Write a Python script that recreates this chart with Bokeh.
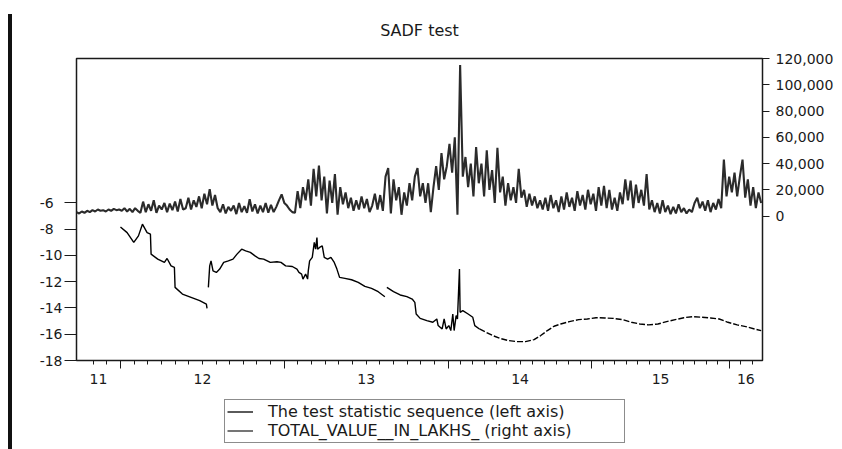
import numpy as np
from bokeh.plotting import figure
from bokeh.models import (Range1d, LinearAxis, FixedTicker, NumeralTickFormatter,
                          Legend, LegendItem, ColumnDataSource, Div)
from bokeh.layouts import row, column
from bokeh.embed import file_html
from bokeh.resources import INLINE

nan = np.nan

# ---------------- data ----------------
title_text = "SADF test"
years = ["11", "12", "13", "14", "15", "16"]
year_obs = [66, 246, 246, 216, 206, 50]          # observations (trading days) per year shown

left_ticks = [-18, -16, -14, -12, -10, -8, -6]
left_labels = ["-18", "-16", "-14", "-12", "-10", "-8\u2007", "-6\u2007"]
right_ticks = [0, 20000, 40000, 60000, 80000, 100000, 120000]

series_names = ["The test statistic sequence (left axis)",
                "TOTAL_VALUE__IN_LAKHS_ (right axis)"]

# SADF test statistic sequence: observation index / value
sadf_obs = [66, 76, 86, 93, 99, 106, 111, 112, 122, 132, 136, 142, 147, 148, 159, 172, 185, 195, 196, 197,
            198, 200, 202, 205, 210, 215, 221, 228, 235, 241, 248, 254, 261, 268, 274, 281, 291, 301, 307, 314,
            324, 331, 334, 338, 340, 344, 347, 348, 350, 354, 357, 359, 361, 362, 365, 369, 372, 377, 382, 387,
            391, 395, 403, 413, 423, 433, 443, 453, 463, 464,
            466, 476, 486, 496, 504, 508, 510, 516, 526, 535, 541, 543, 549, 552, 555, 559, 562, 565, 567, 570,
            572, 575, 576, 580, 588, 595, 598, 605, 615, 625, 635, 648, 661, 674, 687, 697, 707, 717, 727, 740,
            754, 767, 780, 793, 806, 820, 833, 846, 859, 873, 886, 899, 912, 925, 939, 952, 965, 978, 992, 1005,
            1018, 1028]
sadf_val = [-7.83, -8.26, -9.01, -8.51, -7.62, -8.26, -8.38, -9.90, -10.28, -10.53, -10.23, -10.79, -10.91,
            -12.43, -12.94, -13.19, -13.44, -13.70, -14.03, nan,
            -12.43, -10.79, -10.41, -11.17, -11.29, -11.04, -10.53, -10.41, -10.28, -9.90, -9.52, -9.65, -9.77,
            -10.03, -10.23, -10.28, -10.53, -10.48, -10.53, -10.79, -10.84, -11.04, -11.29, -11.42, -11.80,
            -11.42, -11.80, -11.17, -10.41, -10.15, -9.01, -9.52, -8.64, -9.52, -9.39, -9.27, -10.15, -10.28,
            -10.15, -10.53, -11.04, -11.67, -11.75, -11.85, -12.05, -12.36, -12.51, -12.76, -13.14, nan,
            -12.43, -12.76, -13.01, -13.14, -13.32, -13.57, -14.46, -14.79, -14.96, -15.09, -14.84, -15.34,
            -15.60, -14.84, -15.60, -15.34, -15.72, -14.46, -15.72, -14.58, -14.84, -11.04, -14.33, -14.20,
            -14.46, -14.71, -15.34, -15.60, -15.85, -16.10, -16.30, -16.48, -16.56, -16.56, -16.41, -16.10,
            -15.72, -15.39, -15.22, -15.04, -14.89, -14.84, -14.74, -14.76, -14.79, -14.89, -15.09, -15.22,
            -15.29, -15.22, -15.04, -14.89, -14.74, -14.66, -14.71, -14.76, -14.84, -15.09, -15.29, -15.42,
            -15.60, -15.72]

# TOTAL_VALUE (in lakhs), one reading every vol_step observations
vol_step = 4
volume = [3000, 2000, 3500, 2500, 4000, 3000, 4500, 3500, 5000, 4000, 4500, 3500, 5000, 4000, 5500, 4500, 5000,
          4000, 6000, 3500, 5500, 3000, 6000, 4000, 2500,
          11000, 3000, 9000, 4000, 12000, 2500, 8000, 5000, 10000, 3000, 9500, 4500, 11000, 3500, 13000, 5000,
          6000, 14000, 5000, 12000, 7000, 15000, 6000, 17000, 9000, 20500, 8000, 16000, 6000,
          3000, 9000, 2000, 7000, 4000, 8000, 1500, 10000, 3000, 7500, 2500, 12800, 3500, 9000, 2000, 8000,
          3000, 10000, 2500, 8500, 3000, 7000,
          12000, 16500, 10000, 8000, 5000, 3000, 2500, 19000, 6000, 22000, 12000,
          28000, 8000, 36000, 15000, 38500, 12000, 30000, 2000, 27000, 10000, 32000, 1000, 22000, 9000, 18000,
          6000, 14000, 4000, 12000, 5000, 15000, 6000, 13000, 3000,
          8000, 17000, 5000, 16000, 4000, 30000, 36500, 2000, 28000, 12000, 22000, 1000, 18000, 8000, 25000,
          12000, 30000, 36500, 15000, 25000,
          10000, 25000, 3000, 22000, 38000, 20000, 48000, 28000, 38000, 55000, 33000, 60000, 1000, 115000,
          30000, 45000, 22000, 40000, 15000, 52500,
          25000, 40000, 15000, 50000, 20000, 35000, 10000, 52000, 18000, 30000, 8000, 25000, 12000, 22000,
          10000, 36000, 14000, 20000, 7000, 17000, 8000, 15000, 6000, 12000, 5000,
          14000, 4000, 16000, 6000, 12000, 3000, 15000, 5000, 18000, 7000, 14000, 4000, 19000, 8000, 16000,
          5000, 20000, 9000, 17000, 4000, 22000, 8000, 23000, 6000, 20000, 5000, 14000, 4000, 18000, 9000,
          28000, 12000, 27000, 6000, 24000,
          10000, 20000, 8000, 32000, 5000, 12000, 3000, 10000, 2000, 12000, 3000, 8000, 1500, 7000, 2000,
          9000, 3000, 6000, 2000, 5000, 3000, 10000, 14000, 6000, 11000, 4000, 12000, 3000, 10000, 5000,
          13000, 6000, 43000, 15000, 30000,
          18000, 33000, 15000, 30000, 43000, 14000, 28000, 8000, 22000, 6000, 18000, 10000]

# ---------------- styling ----------------
FONT = "DejaVu Sans"
INK = "#1a1a1a"
VOL_COLOR = "#2b2b2b"

starts = [0]
for c in year_obs:
    starts.append(starts[-1] + c)
n_obs = starts[-1]
mids = [(a + b) / 2 for a, b in zip(starts[:-1], starts[1:])]

month_ticks = []
for i, (a, b) in enumerate(zip(starts[:-1], starts[1:])):
    if i == 0:
        step = year_obs[1] / 12
        t = b - step
        while t > 10:
            month_ticks.append(float(t))
            t -= step
    elif i == len(year_obs) - 1:
        step = year_obs[-2] / 12
        t = a + step
        while t < n_obs:
            month_ticks.append(float(t))
            t += step
    else:
        month_ticks += [float(a + year_obs[i] * k / 12) for k in range(1, 12)]

p = figure(width=830, height=395, x_range=Range1d(0, n_obs), y_range=Range1d(-18, 5),
           x_axis_type=None, y_axis_type=None, output_backend="svg", toolbar_location=None,
           min_border_left=64, min_border_right=80, min_border_top=57, min_border_bottom=35,
           title=title_text, background_fill_color="white", border_fill_color="white")
p.extra_y_ranges = {"vol": Range1d(-110000, 120000)}
p.outline_line_color = INK
p.outline_line_width = 1.5

p.title.text_font = FONT
p.title.text_font_size = "16px"
p.title.text_font_style = "normal"
p.title.text_color = INK
p.title.align = "center"
p.title.standoff = 37


def style_axis(ax, size="14px"):
    ax.axis_line_color = None
    ax.major_tick_line_color = INK
    ax.minor_tick_line_color = INK
    ax.major_tick_line_width = 1
    ax.minor_tick_line_width = 1
    ax.major_tick_in = 0
    ax.minor_tick_in = 0
    ax.major_label_text_font = FONT
    ax.major_label_text_font_size = size
    ax.major_label_text_color = INK


left = LinearAxis(ticker=FixedTicker(ticks=left_ticks, minor_ticks=[]),
                  major_label_overrides={float(t): s for t, s in zip(left_ticks, left_labels)})
style_axis(left)
left.major_tick_out = 12
left.minor_tick_out = 0
left.major_label_standoff = 2
p.add_layout(left, "left")

right = LinearAxis(y_range_name="vol", ticker=FixedTicker(ticks=right_ticks, minor_ticks=[]),
                   formatter=NumeralTickFormatter(format="0,0"))
style_axis(right)
right.major_tick_out = 7
right.minor_tick_out = 0
right.major_label_standoff = 6
p.add_layout(right, "right")

xticks = LinearAxis(ticker=FixedTicker(ticks=[float(s) for s in starts[1:-1]], minor_ticks=month_ticks),
                    major_label_overrides={float(s): "" for s in starts[1:-1]})
style_axis(xticks, "1px")
xticks.major_tick_out = 8
xticks.minor_tick_out = 4
xticks.major_label_standoff = 0
p.add_layout(xticks, "below")

xlabels = LinearAxis(ticker=FixedTicker(ticks=[float(m) for m in mids], minor_ticks=[]),
                     major_label_overrides={float(m): y for m, y in zip(mids, years)})
style_axis(xlabels)
xlabels.major_tick_out = 0
xlabels.minor_tick_out = 0
xlabels.major_label_standoff = 5
p.add_layout(xlabels, "below")

# ---------------- glyphs ----------------
vol_x = [float(i * vol_step) for i in range(len(volume))]
vol_src = ColumnDataSource(dict(x=vol_x, y=volume))
vol_r = p.line("x", "y", source=vol_src, y_range_name="vol", line_color=VOL_COLOR, line_width=2.1)

sx = np.array(sadf_obs, dtype=float)
sy = np.array(sadf_val, dtype=float)
solid = sx <= 605
dashed = sx >= 605
sadf_src = ColumnDataSource(dict(x=sx[solid], y=sy[solid]))
s1 = p.line("x", "y", source=sadf_src, line_color="black", line_width=1.4)
s2 = p.line(sx[dashed], sy[dashed], line_color="black", line_width=1.4, line_dash="6 2")

# ---------------- legend strip (own small figure below the chart) ----------------
# same data sources, viewed through ranges where nothing lands in the frame
lf = figure(width=830, height=54, x_range=Range1d(-3000, -2000), y_range=Range1d(-3000, -2000),
            x_axis_type=None, y_axis_type=None, output_backend="svg", toolbar_location=None,
            min_border=0, background_fill_color="white", border_fill_color="white")
lf.outline_line_color = None
lf.grid.visible = False
k1 = lf.line("x", "y", source=sadf_src, line_color="black", line_width=1.3)
k2 = lf.line("x", "y", source=vol_src, line_color=VOL_COLOR, line_width=1.3)

legend = Legend(items=[LegendItem(label=series_names[0], renderers=[k1]),
                       LegendItem(label=series_names[1], renderers=[k2])],
                location=(148, 6))
legend.padding = 2
legend.spacing = 0
legend.margin = 0
legend.glyph_width = 26
legend.glyph_height = 17
legend.label_height = 17
legend.label_standoff = 15
legend.label_width = 354
legend.border_line_color = INK
legend.border_line_width = 1.2
legend.background_fill_color = "white"
legend.background_fill_alpha = 1
legend.label_text_font = FONT
legend.label_text_font_size = "16px"
legend.label_text_color = INK
lf.add_layout(legend, "center")

bar = Div(text="", width=4, height=435, margin=(14, 0, 0, 8),
          styles={"background-color": "#111111"})

layout = row(bar, column(p, lf))

with open("out.html", "w") as f:
    f.write(file_html(layout, INLINE))
